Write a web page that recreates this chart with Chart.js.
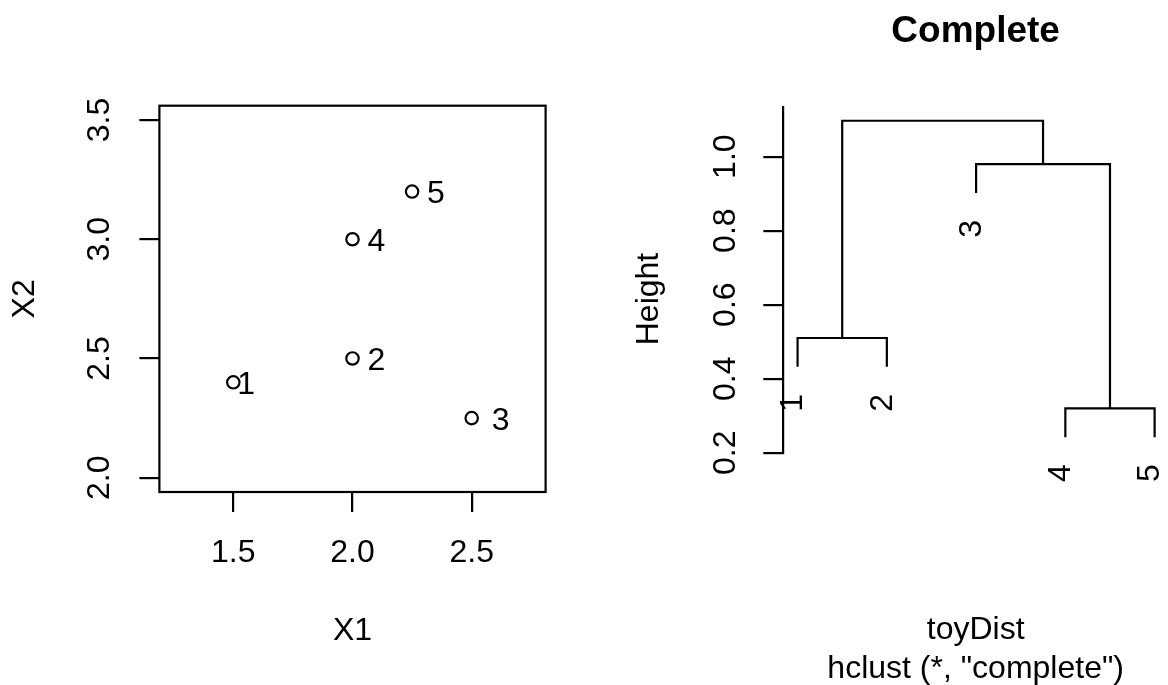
<!DOCTYPE html>
<html>
<head>
<meta charset="utf-8">
<script src="https://cdn.jsdelivr.net/npm/chart.js@4.4.1/dist/chart.umd.min.js"></script>
<style>
    html, body { margin: 0; padding: 0; background: #fff; }
    #wrap { position: relative; width: 1168px; height: 685px; }
    .panel { position: absolute; top: 0; width: 584px; height: 685px; }
    #left { left: 0; }
    #right { left: 584px; }
</style>
</head>
<body>
<div id="wrap">
    <div class="panel" id="left"><canvas id="scatterChart"></canvas></div>
    <div class="panel" id="right"><canvas id="dendroChart"></canvas></div>
</div>
<script>
// toy data
const pointLabels = ["1", "2", "3", "4", "5"];
const x1Values = [1.5, 2.0, 2.5, 2.0, 2.25];
const x2Values = [2.4, 2.5, 2.25, 3.0, 3.2];
const x1Ticks = [1.5, 2.0, 2.5];
const x2Ticks = [2.0, 2.5, 3.0, 3.5];

// hclust result, R style merge: negative = leaf, positive = earlier merge
const leafOrder = [1, 2, 3, 4, 5];
const mergeLeft = [-4, -1, -3, 2];
const mergeRight = [-5, -2, 1, 3];
const mergeHeights = [0.32, 0.51, 0.98, 1.097];
const heightTicks = [0.2, 0.4, 0.6, 0.8, 1.0];
const hang = 0.078;

const FONT = '"Liberation Sans", Arial, Helvetica, sans-serif';
const BASE = 32;
const LW = 2.2;

function fmt(v) {
    return v.toFixed(1);
}

function rotatedText(ctx, text, x, y, align) {
    ctx.save();
    ctx.translate(x, y);
    ctx.rotate(-Math.PI / 2);
    ctx.textAlign = align || "center";
    ctx.textBaseline = "middle";
    ctx.fillText(text, 0, 0);
    ctx.restore();
}

const tickGrid = {
    drawOnChartArea: false,
    drawTicks: true,
    tickLength: 20,
    color: "#000",
    lineWidth: LW
};

// 👉 left panel: scatter
const labelDx = [4, 15, 20, 15, 15];

const scatterText = {
    id: "scatterText",
    afterDraw(chart) {
        const { ctx, chartArea: a, scales: { x, y } } = chart;
        ctx.save();
        ctx.strokeStyle = "#000";
        ctx.lineWidth = LW;
        ctx.strokeRect(a.left, a.top, a.right - a.left, a.bottom - a.top);

        ctx.fillStyle = "#000";
        ctx.font = BASE + "px " + FONT;
        ctx.textAlign = "center";
        ctx.textBaseline = "alphabetic";
        x1Ticks.forEach(v => ctx.fillText(fmt(v), x.getPixelForValue(v), a.bottom + 70));
        ctx.fillText("X1", (a.left + a.right) / 2, a.bottom + 148);

        x2Ticks.forEach(v => rotatedText(ctx, fmt(v), a.left - 59, y.getPixelForValue(v)));
        rotatedText(ctx, "X2", a.left - 134, (a.top + a.bottom) / 2);

        ctx.textAlign = "left";
        ctx.textBaseline = "middle";
        pointLabels.forEach((lab, i) => {
            ctx.fillText(lab, x.getPixelForValue(x1Values[i]) + labelDx[i], y.getPixelForValue(x2Values[i]) + 3);
        });
        ctx.restore();
    }
};

new Chart(document.getElementById("scatterChart"), {
    type: "scatter",
    data: {
        datasets: [{
            data: x1Values.map((v, i) => ({ x: v, y: x2Values[i] })),
            pointRadius: 6.2,
            pointBorderWidth: LW,
            pointBorderColor: "#000",
            pointBackgroundColor: "rgba(0,0,0,0)",
            pointHoverRadius: 6.2
        }]
    },
    options: {
        responsive: true,
        maintainAspectRatio: false,
        animation: false,
        layout: { padding: { top: 105.7, right: 38.4, left: 0, bottom: 0 } },
        plugins: { legend: { display: false }, tooltip: { enabled: false } },
        scales: {
            x: {
                type: "linear",
                min: 1.19,
                max: 2.81,
                afterBuildTicks: s => { s.ticks = x1Ticks.map(v => ({ value: v })); },
                afterFit: s => { s.height = 193; },
                grid: tickGrid,
                border: { display: false },
                ticks: { display: false }
            },
            y: {
                type: "linear",
                min: 1.94,
                max: 3.56,
                afterBuildTicks: s => { s.ticks = x2Ticks.map(v => ({ value: v })); },
                afterFit: s => { s.width = 159.4; },
                grid: tickGrid,
                border: { display: false },
                ticks: { display: false }
            }
        }
    },
    plugins: [scatterText]
});

// 👉 right panel: dendrogram
const nodePos = {};
leafOrder.forEach((leaf, i) => { nodePos["L" + leaf] = { x: i + 1, h: null }; });
const leafEnds = [];
const segments = [];

mergeHeights.forEach((h, j) => {
    const node = id => {
        if (id < 0) {
            const p = { x: nodePos["L" + (-id)].x, h: h - hang };
            leafEnds.push({ label: String(-id), x: p.x, h: p.h });
            return p;
        }
        return nodePos["M" + id];
    };
    const a = node(mergeLeft[j]);
    const b = node(mergeRight[j]);
    segments.push([
        { x: a.x, y: a.h },
        { x: a.x, y: h },
        { x: b.x, y: h },
        { x: b.x, y: b.h }
    ]);
    nodePos["M" + (j + 1)] = { x: (a.x + b.x) / 2, h: h };
});

const dendroText = {
    id: "dendroText",
    afterDraw(chart) {
        const { ctx, chartArea: a, scales: { x, y } } = chart;
        const cx = (a.left + a.right) / 2;
        ctx.save();
        ctx.fillStyle = "#000";

        ctx.font = "bold " + Math.round(BASE * 1.17) + "px " + FONT;
        ctx.textAlign = "center";
        ctx.textBaseline = "alphabetic";
        ctx.fillText("Complete", cx, 41.7);

        ctx.font = BASE + "px " + FONT;
        ctx.fillText("toyDist", cx, 639);
        ctx.fillText('hclust (*, "complete")', cx, 678);

        heightTicks.forEach(v => rotatedText(ctx, fmt(v), a.left - 57, y.getPixelForValue(v)));
        rotatedText(ctx, "Height", a.left - 134, 299);

        leafEnds.forEach(l => {
            rotatedText(ctx, l.label, x.getPixelForValue(l.x) - 4, y.getPixelForValue(l.h) + 27, "right");
        });
        ctx.restore();
    }
};

new Chart(document.getElementById("dendroChart"), {
    type: "line",
    data: {
        datasets: segments.map(seg => ({
            data: seg,
            borderColor: "#000",
            borderWidth: LW,
            pointRadius: 0,
            fill: false,
            tension: 0
        }))
    },
    options: {
        responsive: true,
        maintainAspectRatio: false,
        animation: false,
        layout: { padding: { top: 106.7, right: 0, left: 0, bottom: 232.3 } },
        plugins: { legend: { display: false }, tooltip: { enabled: false } },
        scales: {
            x: {
                type: "linear",
                min: 0.84,
                max: 5.15,
                display: false
            },
            y: {
                type: "linear",
                min: 0.2,
                max: 1.135,
                afterBuildTicks: s => { s.ticks = heightTicks.map(v => ({ value: v })); },
                afterFit: s => { s.width = 199.3; },
                grid: tickGrid,
                border: { display: true, color: "#000", width: LW },
                ticks: { display: false }
            }
        }
    },
    plugins: [dendroText]
});
</script>
</body>
</html>
